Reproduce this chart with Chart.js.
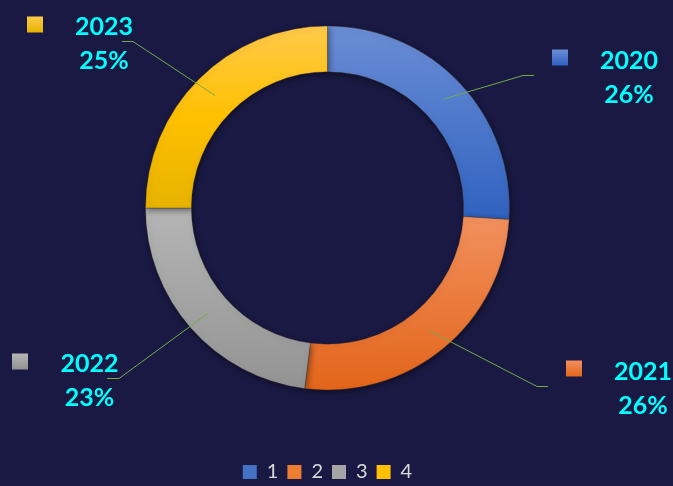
<!DOCTYPE html>
<html>
<head>
<meta charset="utf-8">
<script src="https://cdn.jsdelivr.net/npm/chart.js@4.4.1/dist/chart.umd.min.js"></script>
<style>
html, body { margin: 0; padding: 0; background: #1a1943; }
#wrap { width: 673px; height: 486px; position: relative; }
</style>
</head>
<body>
<div id="wrap"><canvas id="ringChart"></canvas></div>
<script>
// data
var legendLabels = ["1", "2", "3", "4"];
var years = ["2020", "2021", "2022", "2023"];
var shares = [26, 26, 23, 25];

// colours (top of slice -> bottom of slice)
var sliceStops = [
    ["#6a8dd5", "#3062c0"],
    ["#f2905e", "#e3651a"],
    ["#b5b5b5", "#939393"],
    ["#ffca4a", "#ffc000", "#e6b300"]
];
var legendColors = ["#4472c4", "#ed7d31", "#a5a5a5", "#ffc000"];

// label placement, offsets from the ring centre
var labelLayout = [
    { box: [224.5, -158.5], text: [301.5, -139.5], elbow: [195.5, -132.5], end: [206.5, -132.5] },
    { box: [238.5, 152.5], text: [315.5, 171.5], elbow: [209.5, 178.5], end: [220.5, 178.5] },
    { box: [-315.5, 145.5], text: [-238, 163.5], elbow: [-208.5, 170.5], end: [-220.5, 170.5] },
    { box: [-300.5, -191.5], text: [-223.5, -173.5], elbow: [-194.5, -166.5], end: [-205.5, -166.5] }
];

function sliceGradient(context) {
    var i = context.dataIndex;
    var chart = context.chart;
    var area = chart.chartArea;
    var ctrl = chart.getDatasetMeta(0).controller;
    var stops = sliceStops[i];
    if (!area || !ctrl || !ctrl.outerRadius) return stops[stops.length - 1];
    var cy = (area.top + area.bottom) / 2;
    var total = 0, before = 0;
    for (var j = 0; j < shares.length; j++) {
        total += shares[j];
        if (j < i) before += shares[j];
    }
    var a0 = -Math.PI / 2 + before / total * Math.PI * 2;
    var a1 = a0 + shares[i] / total * Math.PI * 2;
    var minY = Infinity, maxY = -Infinity;
    for (var k = 0; k <= 60; k++) {
        var a = a0 + (a1 - a0) * k / 60;
        [ctrl.innerRadius, ctrl.outerRadius].forEach(function (r) {
            var y = cy + r * Math.sin(a);
            minY = Math.min(minY, y);
            maxY = Math.max(maxY, y);
        });
    }
    var g = chart.ctx.createLinearGradient(0, minY, 0, maxY);
    stops.forEach(function (c, n) {
        g.addColorStop(n / (stops.length - 1), c);
    });
    return g;
}

var ringShadow = {
    id: "ringShadow",
    beforeDatasetsDraw: function (chart) {
        var c = chart.ctx;
        c.save();
        c.shadowColor = "rgba(0, 0, 0, 0.45)";
        c.shadowBlur = 6;
        c.shadowOffsetX = 1;
        c.shadowOffsetY = 2;
    },
    afterDatasetsDraw: function (chart) {
        chart.ctx.restore();
    }
};

var yearLabels = {
    id: "yearLabels",
    afterDraw: function (chart) {
        var c = chart.ctx;
        var area = chart.chartArea;
        var cx = (area.left + area.right) / 2;
        var cy = (area.top + area.bottom) / 2;
        var arcs = chart.getDatasetMeta(0).data;
        c.save();
        arcs.forEach(function (arc, i) {
            var p = arc.getCenterPoint();
            var L = labelLayout[i];
            // leader line
            c.strokeStyle = "#70ad47";
            c.lineWidth = 1;
            c.beginPath();
            c.moveTo(p.x, p.y);
            c.lineTo(cx + L.elbow[0], cy + L.elbow[1]);
            c.lineTo(cx + L.end[0], cy + L.end[1]);
            c.stroke();
            // colour square
            var bx = cx + L.box[0], by = cy + L.box[1];
            var stops = sliceStops[i];
            var g = c.createLinearGradient(0, by, 0, by + 16);
            g.addColorStop(0, stops[0]);
            g.addColorStop(1, stops[stops.length - 1]);
            c.fillStyle = g;
            c.fillRect(bx, by, 16, 16);
            // year and percentage
            c.fillStyle = "#00ffff";
            c.font = "bold 25px Lato";
            c.textAlign = "center";
            c.textBaseline = "alphabetic";
            c.fillText(years[i], cx + L.text[0], cy + L.text[1]);
            c.fillText(shares[i] + "%", cx + L.text[0], cy + L.text[1] + 34);
        });
        c.restore();
    }
};

var ringCtx = document.getElementById("ringChart").getContext("2d");
var ringChart = new Chart(ringCtx, {
    type: "doughnut",
    data: {
        labels: legendLabels,
        datasets: [{
            data: shares,
            backgroundColor: sliceGradient,
            borderColor: "rgba(60, 50, 40, 0.35)",
            borderWidth: 1,
            radius: 182,
            cutout: "74.8%"
        }]
    },
    options: {
        responsive: true,
        maintainAspectRatio: false,
        animation: false,
        layout: { padding: { left: 0, right: 18, top: 0, bottom: -6 } },
        plugins: {
            tooltip: { enabled: false },
            legend: {
                position: "bottom",
                title: { display: true, text: "", font: { size: 10 }, padding: { top: 0, bottom: 25 } },
                labels: {
                    boxWidth: 14,
                    boxHeight: 14,
                    padding: 9,
                    color: "#d9d9d9",
                    font: { family: "Lato", size: 20 },
                    generateLabels: function () {
                        return legendLabels.map(function (t, i) {
                            return {
                                text: t,
                                fillStyle: legendColors[i],
                                strokeStyle: legendColors[i],
                                lineWidth: 0,
                                fontColor: "#d9d9d9",
                                hidden: false,
                                index: i
                            };
                        });
                    }
                }
            }
        }
    },
    plugins: [ringShadow, yearLabels]
});
</script>
</body>
</html>
